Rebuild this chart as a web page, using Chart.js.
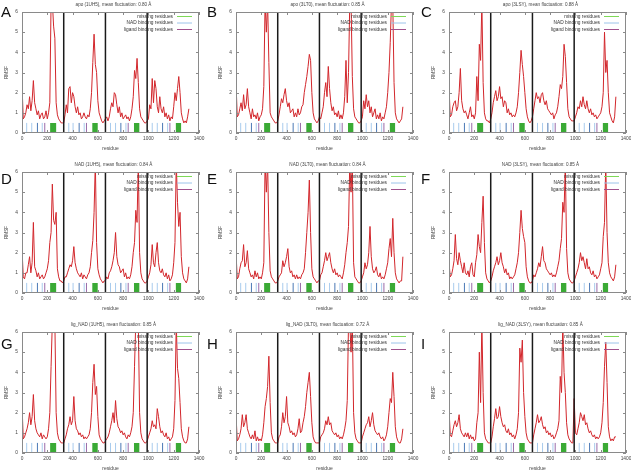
<!DOCTYPE html>
<html>
<head>
<meta charset="utf-8">
<script src="https://cdn.jsdelivr.net/npm/chart.js@4.4.0/dist/chart.umd.min.js"></script>
<style>
  body { margin: 0; background: #fff; width: 631px; height: 471px; overflow: hidden; position: relative; }
  canvas { position: absolute; }
  .letter { position: absolute; font: 15px "Liberation Sans", Arial, sans-serif; line-height: 1; color: #111; }
</style>
</head>
<body>
<script>
// residue grid (every 10th residue), one value per grid point in each panel
const residues = [];
for (let r = 0; r <= 1320; r += 10) residues.push(r);

const rmsfA = [
  2.4,0.7,0.8,1.0,1.4,1.2,1.8,1.1,1.6,2.6,1.5,1.2,0.9,1.1,0.7,0.9,1.0,0.7,0.8,1.1,0.7,1.0,1.5,6.5,6.5,5.3,4.7,1.5,0.9,0.7,0.6,0.5,0.5,
  0.5,0.9,1.4,1.0,2.2,2.3,1.5,2.0,1.8,1.3,1.0,1.3,0.9,1.0,0.7,0.8,1.0,0.8,0.7,0.9,0.8,1.2,2.0,3.5,4.9,3.4,3.0,1.6,1.0,0.8,0.6,0.5,0.6,
  0.7,0.8,0.6,0.8,1.2,1.5,1.3,2.0,1.9,1.4,1.0,1.3,0.8,1.0,0.7,0.8,0.9,0.7,0.8,0.6,0.8,1.2,1.8,3.1,2.7,3.7,2.5,1.2,0.8,0.7,0.6,0.5,0.5,
  0.6,0.7,1.4,1.2,2.7,1.5,2.6,2.2,1.3,1.0,1.8,1.2,1.0,1.3,0.8,1.0,0.7,0.9,0.6,0.8,0.7,1.3,2.0,1.6,2.2,2.8,2.0,1.0,0.7,0.5,0.6,0.5,0.8,
  1.2];
const rmsfB = [
  2.5,0.8,0.9,1.2,1.5,1.1,1.9,1.2,1.4,2.2,1.3,1.0,0.7,1.2,0.8,0.9,0.7,1.0,0.6,0.8,0.9,1.2,2.3,6.5,5.0,6.5,3.5,1.0,0.8,0.7,0.6,0.5,0.5,
  0.6,0.9,1.3,1.7,1.5,1.9,2.2,1.6,1.3,1.5,1.0,1.1,1.2,0.8,1.0,0.8,1.2,0.9,1.0,1.3,1.4,2.0,2.4,2.8,3.3,3.9,3.6,2.0,1.0,0.7,0.6,0.5,0.6,
  0.8,0.7,1.0,1.3,2.0,2.5,1.8,3.3,2.2,1.5,1.1,1.3,0.9,1.0,0.8,1.1,0.7,0.9,0.7,1.0,1.8,3.6,1.5,3.0,6.5,6.5,2.8,1.2,0.8,0.7,0.6,0.5,0.5,
  0.6,0.8,1.6,1.2,1.9,1.3,1.6,1.0,1.3,0.8,1.0,1.2,0.7,0.9,0.7,1.0,0.6,0.8,0.7,1.0,1.3,2.0,3.0,4.5,6.5,6.5,2.5,1.0,0.7,0.6,0.5,0.6,0.7,
  1.3];
const rmsfC = [
  2.3,0.8,0.9,1.3,1.5,1.6,1.1,1.3,2.0,3.2,1.6,1.2,1.0,1.1,0.9,0.7,1.0,1.3,0.8,0.9,0.7,1.0,2.8,1.6,4.4,3.6,6.5,2.5,1.0,0.7,0.6,0.6,0.5,
  0.7,1.0,1.5,1.8,2.1,1.6,1.8,2.3,1.7,1.8,1.3,1.6,1.5,1.0,1.2,0.9,1.0,0.8,0.9,0.8,1.0,1.3,2.0,3.0,4.1,3.4,2.8,2.0,1.2,0.8,0.6,0.5,0.6,
  0.8,1.2,1.6,2.0,1.7,1.8,1.5,1.9,2.0,1.6,1.4,1.6,1.2,1.1,1.0,0.9,1.0,0.7,0.9,1.0,1.3,1.8,2.4,2.2,2.8,4.4,3.8,2.5,1.2,0.8,0.7,0.6,0.6,
  0.6,0.8,1.0,1.3,1.2,1.6,1.3,1.8,1.4,1.2,1.6,1.2,1.0,1.2,0.9,1.0,0.8,0.9,0.7,0.8,0.9,1.0,1.3,2.0,5.0,3.0,3.6,2.0,1.0,0.8,0.6,0.5,0.8,
  1.8];
const rmsfD = [
  2.2,0.8,0.7,1.0,1.0,1.4,1.8,1.0,1.5,3.5,1.3,1.1,0.8,1.0,0.7,0.8,0.9,0.7,0.8,1.0,1.2,1.6,2.5,3.0,5.4,3.6,3.4,4.0,1.2,0.8,0.6,0.6,0.5,
  0.6,0.8,0.8,1.0,1.2,1.4,1.3,1.6,2.3,1.5,1.2,1.0,0.9,0.8,1.0,0.7,0.9,0.8,0.7,0.9,1.0,1.3,2.0,2.6,4.0,6.5,2.5,1.2,0.9,0.7,0.6,0.5,0.6,
  0.6,0.8,0.7,1.0,1.1,1.3,1.6,2.0,3.0,1.8,1.4,1.3,1.0,1.1,1.2,0.8,1.0,0.7,0.8,0.7,0.9,1.3,2.0,2.5,4.1,3.5,6.5,2.0,1.0,0.7,0.6,0.5,0.5,
  0.6,0.8,1.0,1.4,2.4,1.5,1.3,2.0,2.5,1.5,1.1,1.0,1.2,0.9,0.8,1.0,0.7,0.9,0.6,0.7,0.9,1.5,2.5,6.5,4.5,3.3,4.0,1.8,1.0,0.7,0.6,0.5,0.7,
  1.3];
const rmsfE = [
  2.0,0.7,0.8,1.2,1.5,1.6,2.4,1.3,1.5,2.1,1.2,1.0,0.8,0.9,0.7,1.1,0.8,1.0,0.7,0.8,0.7,1.0,1.5,6.5,5.0,6.5,3.0,1.1,0.8,0.7,0.6,0.5,0.5,
  0.6,0.8,0.9,1.0,1.6,1.3,1.5,1.8,2.2,1.3,1.0,1.1,0.8,0.9,0.7,0.9,0.7,0.8,0.7,0.9,1.0,1.2,2.0,3.0,4.0,5.6,3.0,1.2,0.8,0.7,0.6,0.5,0.6,
  0.6,0.9,1.0,1.3,1.6,2.0,1.6,1.8,2.0,1.5,1.2,1.0,1.2,0.9,1.0,0.8,0.9,0.8,0.7,1.0,1.4,2.0,2.5,3.3,6.5,5.0,6.5,1.5,0.8,0.7,0.6,0.5,0.5,
  0.6,0.8,1.0,1.5,1.2,1.4,2.0,3.3,1.8,1.2,1.0,1.1,1.3,0.9,0.8,1.0,0.7,0.8,0.7,0.9,1.2,1.5,2.2,2.7,1.8,3.7,2.0,1.0,0.7,0.6,0.5,0.6,0.6,
  1.8];
const rmsfF = [
  1.5,0.8,0.9,1.2,1.6,2.9,1.7,1.4,2.0,1.6,1.3,1.0,1.5,1.0,0.9,1.1,0.8,1.3,1.5,0.9,0.8,1.5,1.9,2.9,2.3,2.0,3.5,4.8,2.5,1.0,0.7,0.6,0.5,
  0.6,0.8,1.1,1.3,1.5,1.8,1.4,1.6,2.0,1.5,1.3,1.0,1.2,0.9,1.0,0.7,0.8,0.7,0.8,0.9,1.2,1.5,2.0,3.0,4.1,3.2,2.8,2.5,1.3,0.8,0.6,0.5,0.5,
  0.6,0.9,0.8,1.0,1.2,1.5,1.3,1.8,2.3,1.6,1.5,1.2,1.1,1.0,0.9,1.0,0.8,0.9,0.8,1.0,1.3,1.6,2.2,2.7,4.5,4.0,6.5,2.2,1.0,0.7,0.6,0.5,0.5,
  0.6,0.8,1.0,1.2,1.5,2.0,1.6,1.8,1.5,1.2,1.7,1.2,1.3,1.0,0.9,1.1,0.8,0.9,0.7,0.8,0.9,1.2,1.5,2.8,3.5,6.5,3.0,1.5,1.0,0.8,0.7,0.6,0.8,
  1.4];
const rmsfG = [
  2.4,0.7,0.8,1.0,1.2,1.5,2.0,1.4,1.8,2.9,1.6,1.2,1.0,0.9,0.8,1.0,0.7,0.9,0.8,0.7,0.8,1.2,2.0,4.3,6.5,6.5,6.5,2.0,1.0,0.7,0.6,0.5,0.5,
  0.5,0.7,0.9,1.2,1.4,1.8,1.4,1.6,2.8,1.6,1.2,1.1,0.9,1.0,0.8,0.9,0.7,0.8,0.7,0.8,0.9,1.2,2.0,3.5,4.4,2.9,3.3,1.8,0.9,0.7,0.6,0.5,0.5,
  0.6,0.7,0.8,1.0,1.3,1.6,2.0,1.5,2.6,1.7,1.3,1.2,1.0,1.1,0.9,1.0,0.8,0.7,0.9,0.8,1.0,1.3,2.0,4.3,6.5,6.5,6.5,2.0,1.0,0.7,0.6,0.5,0.5,
  0.6,0.8,1.0,1.2,1.6,1.3,1.4,1.2,2.2,1.8,1.3,1.0,1.1,0.9,0.8,1.0,0.7,0.8,0.6,0.7,0.8,1.2,2.6,6.5,4.2,3.7,2.5,1.2,0.8,0.6,0.5,0.5,0.7,
  1.3];
const rmsfH = [
  1.9,0.6,0.7,0.9,1.2,1.9,1.3,1.5,1.9,1.2,1.0,0.8,0.7,0.9,0.7,1.1,0.6,0.8,0.6,0.7,0.6,0.9,1.5,2.3,2.7,3.3,4.8,2.5,1.0,0.7,0.6,0.5,0.5,
  0.5,0.8,0.9,1.3,2.0,1.5,1.8,2.8,1.5,1.3,1.0,1.1,0.9,1.0,0.8,0.9,1.2,1.7,1.0,1.1,1.5,1.8,2.3,3.0,3.5,4.0,2.8,1.5,0.8,0.6,0.5,0.5,0.5,
  0.5,0.8,0.9,1.0,1.2,1.6,1.4,1.8,1.4,1.5,1.1,1.0,0.9,1.0,0.8,0.9,0.7,0.8,0.7,0.9,1.2,1.6,2.6,6.5,6.5,5.0,6.5,2.0,1.0,0.7,0.6,0.5,0.5,
  0.5,0.8,1.0,1.2,1.4,1.5,1.8,1.3,1.6,2.0,1.4,1.1,1.0,0.9,1.0,0.8,0.7,0.8,0.6,0.7,0.9,1.3,2.0,2.7,2.5,4.0,2.8,1.3,0.8,0.6,0.5,0.5,0.7,
  1.2];
const rmsfI = [
  2.2,0.9,0.8,1.1,1.4,1.6,1.3,1.5,1.9,1.2,1.0,0.9,0.8,1.0,0.8,1.0,0.7,0.9,0.7,0.8,0.6,0.7,1.5,2.0,5.0,2.5,6.5,3.0,1.0,0.7,0.6,0.5,0.5,
  0.5,0.8,1.3,1.7,2.2,1.7,1.8,2.3,1.8,1.5,1.3,1.4,1.1,1.0,1.2,0.9,1.0,0.8,0.9,0.7,0.9,1.2,2.0,5.2,4.5,5.6,3.0,1.8,1.0,0.7,0.6,0.5,0.5,
  0.5,0.9,1.2,1.5,1.9,1.5,1.6,1.8,1.4,1.2,1.3,1.0,1.1,0.9,1.0,0.8,0.9,0.7,0.8,1.0,1.2,1.6,3.8,3.0,6.5,4.0,3.0,1.5,0.9,0.7,0.6,0.5,0.5,
  2.7,1.0,0.9,1.2,1.5,2.0,1.8,1.6,1.9,1.4,1.5,1.2,1.0,1.1,0.9,0.8,0.9,0.7,0.8,0.7,0.8,1.0,1.5,2.5,4.3,5.5,3.5,1.3,0.8,0.6,0.7,0.6,0.8,
  0.8];

const titles = [
  'apo (1UH5), mean fluctuation: 0.80 Å', 'apo (3LT0), mean fluctuation: 0.85 Å', 'apo (3LSY), mean fluctuation: 0.88 Å',
  'NAD (1UH5), mean fluctuation: 0.84 Å', 'NAD (3LT0), mean fluctuation: 0.84 Å', 'NAD (3LSY), mean fluctuation: 0.85 Å',
  'lig_NAD (1UH5), mean fluctuation: 0.85 Å', 'lig_NAD (3LT0), mean fluctuation: 0.72 Å', 'lig_NAD (3LSY), mean fluctuation: 0.85 Å'
];
const letters = ['A', 'B', 'C', 'D', 'E', 'F', 'G', 'H', 'I'];

// chain boundaries and residue annotations (same protein in every panel)
const chainBounds = [330, 660, 990];
const nadSites = [37, 77, 160, 370, 404, 492, 700, 740, 822, 1030, 1070, 1152];
const nadLigSites = [122, 452, 782, 1112];
const ligandSites = [180, 510, 840, 1170];
const missingStart = [222, 555, 885, 1215];
const missingEnd = [272, 600, 930, 1260];
const legendLabels = ['missing residues', 'NAD binding residues', 'ligand binding residues'];
const legendColors = ['#7ed957', '#9cc4ea', '#a0508c'];

const colLeft = [0, 214, 427];
const letterPos = [[1, 4], [207, 4], [421, 4], [1, 171], [207, 171], [421, 171], [1, 336], [207, 336], [421, 336]];
const FONT = '"Liberation Sans", Arial, sans-serif';

function sticks(list, top) {
  const d = [];
  list.forEach(x => { d.push({x: x, y: 0}, {x: x, y: top}, {x: x, y: null}); });
  return d;
}

const framePlugin = {
  id: 'frame',
  afterDatasetsDraw(chart) {
    const ctx = chart.ctx, a = chart.chartArea;
    const xs = chart.scales.x, ys = chart.scales.y;
    ctx.save();
    ctx.strokeStyle = '#8a8a8a';
    ctx.lineWidth = 1;
    ctx.strokeRect(a.left + 0.5, a.top + 0.5, a.right - a.left - 1, a.bottom - a.top - 1);
    ctx.beginPath();
    for (let v = 0; v <= 6; v++) {
      const y = Math.round(ys.getPixelForValue(v)) + 0.5;
      ctx.moveTo(a.left, y); ctx.lineTo(a.left + 3, y);
      ctx.moveTo(a.right, y); ctx.lineTo(a.right - 3, y);
    }
    for (let v = 0; v <= 1400; v += 200) {
      const x = Math.round(xs.getPixelForValue(v)) + 0.5;
      ctx.moveTo(x, a.bottom); ctx.lineTo(x, a.bottom - 3);
      ctx.moveTo(x, a.top); ctx.lineTo(x, a.top + 3);
    }
    ctx.stroke();
    // legend, inside the top right corner
    ctx.font = '4.8px ' + FONT;
    ctx.textAlign = 'right';
    ctx.textBaseline = 'middle';
    legendLabels.forEach((t, i) => {
      const y = a.top + 4.5 + i * 6.5;
      ctx.fillStyle = '#333';
      ctx.fillText(t, a.right - 26, y);
      ctx.strokeStyle = legendColors[i];
      ctx.beginPath();
      ctx.moveTo(a.right - 22, y); ctx.lineTo(a.right - 7, y);
      ctx.stroke();
    });
    // panel title
    ctx.textAlign = 'center';
    ctx.fillStyle = '#444';
    ctx.font = '4.6px ' + FONT;
    ctx.fillText(chart.options.plugins.frame.title, (a.left + a.right) / 2 + 3, 4.5);
    ctx.restore();
  }
};

const rmsfSets = [rmsfA, rmsfB, rmsfC, rmsfD, rmsfE, rmsfF, rmsfG, rmsfH, rmsfI];

rmsfSets.forEach((vals, i) => {
  const col = i % 3, row = Math.floor(i / 3);
  const cv = document.createElement('canvas');
  cv.width = 213; cv.height = 160;
  cv.style.left = colLeft[col] + 'px';
  cv.style.top = (row * 160) + 'px';
  cv.style.width = '213px'; cv.style.height = '160px';
  document.body.appendChild(cv);

  const lt = document.createElement('div');
  lt.className = 'letter';
  lt.textContent = letters[i];
  lt.style.left = letterPos[i][0] + 'px';
  lt.style.top = letterPos[i][1] + 'px';
  document.body.appendChild(lt);

  const datasets = [];
  datasets.push({
    data: sticks(chainBounds, 6), borderColor: '#1a1a1a', borderWidth: 1.5,
    pointRadius: 0, spanGaps: false
  });
  missingStart.forEach((s, k) => {
    datasets.push({
      data: [{x: s, y: 0.5}, {x: missingEnd[k], y: 0.5}],
      borderWidth: 0, borderColor: '#3aaa35', backgroundColor: '#3aaa35',
      fill: 'origin', pointRadius: 0
    });
  });
  datasets.push({ data: sticks(ligandSites, 0.5), borderColor: '#9a6aa8', borderWidth: 1, pointRadius: 0, spanGaps: false });
  datasets.push({ data: sticks(nadLigSites, 0.5), borderColor: '#4a78b5', borderWidth: 1, pointRadius: 0, spanGaps: false });
  datasets.push({ data: sticks(nadSites, 0.5), borderColor: '#a8cbed', borderWidth: 1, pointRadius: 0, spanGaps: false });
  datasets.push({
    data: residues.map((r, k) => ({x: r, y: vals[k]})),
    borderColor: '#d2262b', borderWidth: 1, pointRadius: 0, tension: 0
  });

  new Chart(cv, {
    type: 'line',
    data: { datasets: datasets },
    options: {
      responsive: false,
      maintainAspectRatio: false,
      devicePixelRatio: 1,
      animation: false,
      events: [],
      layout: { padding: { top: 12, right: 14, left: 0, bottom: 0 } },
      plugins: {
        legend: { display: false },
        tooltip: { enabled: false },
        title: { display: false },
        frame: { title: titles[i] }
      },
      scales: {
        x: {
          type: 'linear', min: 0, max: 1400,
          ticks: { stepSize: 200, padding: 3, color: '#444', font: { family: FONT, size: 4.8 }, maxRotation: 0,
                   callback: v => String(v) },
          grid: { display: false, drawTicks: false },
          border: { display: false },
          title: { display: true, text: 'residue', color: '#444', font: { family: FONT, size: 5 }, padding: { top: 0, bottom: 8 } },
          afterFit: s => { s.height = 27; }
        },
        y: {
          min: 0, max: 6,
          ticks: { stepSize: 1, padding: 4, color: '#444', font: { family: FONT, size: 4.8 }, callback: v => String(v) },
          grid: { display: false, drawTicks: false },
          border: { display: false },
          title: { display: true, text: 'RMSF', color: '#444', font: { family: FONT, size: 4.6 }, padding: { top: 4, bottom: 0 } },
          afterFit: s => { s.width = 22; }
        }
      }
    },
    plugins: [framePlugin]
  });
});
</script>
</body>
</html>
